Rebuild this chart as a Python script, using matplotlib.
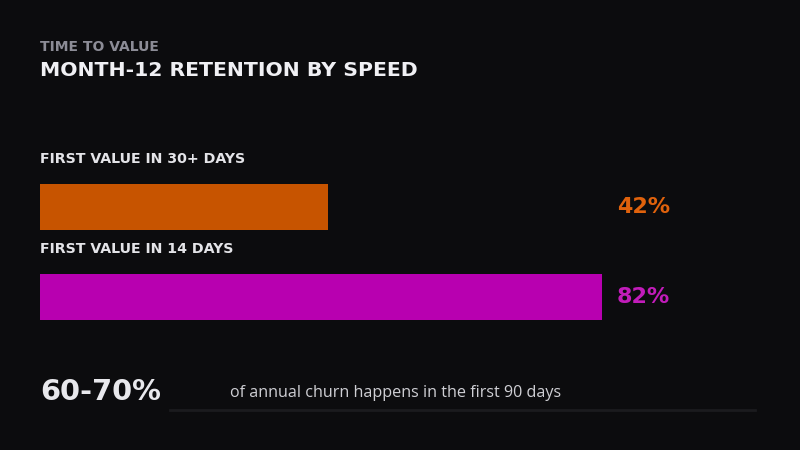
import matplotlib.pyplot as plt

# data
categories = ['FIRST VALUE IN 30+ DAYS', 'FIRST VALUE IN 14 DAYS']
retention = [42, 82]
bar_colors = ['#c75400', '#b800b0']
label_colors = ['#e0620c', '#c21cba']
stat_value = '60-70%'
stat_text = 'of annual churn happens in the first 90 days'

bg = '#0c0c0e'
heavy = 'DejaVu Sans'
fig = plt.figure(figsize=(8, 4.5), dpi=100, facecolor=bg)

# bar axes: x in percent, y in pixels from top
ax = fig.add_axes([0.05, 0, 0.85625, 1])
ax.set_facecolor('none')
ax.set_xlim(0, 100)
ax.set_ylim(450, 0)
ax.axis('off')

for i, (cat, val) in enumerate(zip(categories, retention)):
    yc = 207 + 90 * i
    ax.barh(yc, val, height=46, color=bar_colors[i], edgecolor='none')
    ax.text(0, yc - 48, cat, color='#e4e4e8', fontsize=10.2, family=heavy,
            fontweight='bold', va='center', ha='left')
    ax.text(84.2, yc, f'{val}%', color=label_colors[i], fontsize=16,
            family=heavy, fontweight='bold', va='center', ha='left')

# titles
fig.text(0.05, 1 - 47 / 450, 'TIME TO VALUE', color='#8c8c96', fontsize=10,
         family=heavy, fontweight='bold', va='center')
fig.text(0.05, 1 - 71 / 450, 'MONTH-12 RETENTION BY SPEED', color='#f0f0f4',
         fontsize=14.7, family=heavy, fontweight='bold', va='center')

# footer stat
fig.text(0.05, 1 - 392 / 450, stat_value, color='#e8e8ec', fontsize=20.8,
         family=heavy, fontweight='bold', va='center')
fig.text(230 / 800, 1 - 393 / 450, stat_text, color='#cfcfd4', fontsize=11.6,
         family='Open Sans', va='center')
fig.add_artist(plt.Line2D([170 / 800, 755 / 800], [1 - 410 / 450] * 2,
                          color='#1b1b1e', lw=2))

fig.savefig('out.png', dpi=100, facecolor=bg)
